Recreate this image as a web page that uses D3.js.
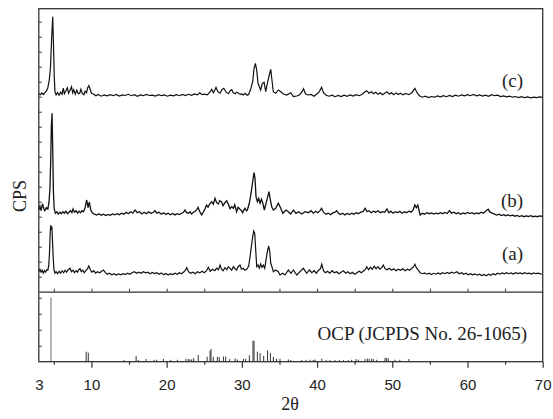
<!DOCTYPE html>
<html><head><meta charset="utf-8">
<script src="https://cdn.jsdelivr.net/npm/d3@7"></script>
<style>
html,body{margin:0;padding:0;background:#fff;}
svg{display:block;}
</style></head>
<body><svg id="chart" width="553" height="419"></svg>
<script>
// ---- data (2θ, intensity above each pattern's own baseline) ----
const xTicks = [3,10,20,30,40,50,60,70];
const xMinorTicks = [5,15,25,35,45,55,65];
const seriesLabels = ["(a)","(b)","(c)"];
const seriesOffsets = [180, 780, 1960];
const refLabel = "OCP (JCPDS No. 26-1065)";

const traceA = [[3.0,20],[3.15,45],[3.3,15],[3.45,35],[3.6,5],[3.75,30],[3.9,15],[4.05,40],[4.2,35],[4.32,80],[4.42,200],[4.52,420],[4.6,487],[4.67,440],[4.74,470],[4.82,330],[4.92,150],[5.02,40],[5.15,5],[5.3,20],[5.5,0],[5.7,25],[5.9,5],[6.1,30],[6.3,10],[6.5,35],[6.7,15],[6.9,40],[7.15,54],[7.35,20],[7.55,35],[7.75,10],[7.95,30],[8.15,15],[8.3,40],[8.48,50],[8.65,20],[8.85,35],[9.05,10],[9.25,30],[9.45,45],[9.65,77],[9.85,40],[10.05,15],[10.3,30],[10.55,5],[10.8,20],[11.1,10],[11.35,25],[11.6,37],[11.85,10],[12.1,-5],[12.4,5],[12.7,-10],[13.0,0],[13.3,-13],[13.6,-3],[13.9,-12],[14.2,0],[14.5,-8],[14.8,5],[15.1,-5],[15.4,10],[15.7,20],[16.0,5],[16.3,15],[16.6,4],[16.9,20],[17.2,8],[17.5,15],[17.8,0],[18.1,12],[18.4,2],[18.7,10],[19.0,-5],[19.3,8],[19.6,-10],[19.9,2],[20.2,-13],[20.5,0],[20.8,-8],[21.1,5],[21.4,-5],[21.7,10],[22.0,0],[22.3,20],[22.5,35],[22.67,60],[22.9,20],[23.2,5],[23.5,15],[23.8,0],[24.1,20],[24.4,8],[24.7,25],[25.0,10],[25.3,30],[25.54,64],[25.8,25],[26.1,45],[26.4,30],[26.65,55],[26.9,40],[27.1,87],[27.3,45],[27.5,30],[27.75,60],[28.0,40],[28.2,70],[28.43,54],[28.65,35],[28.87,70],[29.1,50],[29.3,37],[29.5,70],[29.75,87],[29.95,45],[30.19,54],[30.4,35],[30.65,44],[30.91,77],[31.09,170],[31.26,270],[31.44,370],[31.58,427],[31.71,404],[31.84,237],[31.98,70],[32.15,87],[32.32,54],[32.5,97],[32.68,64],[32.86,87],[33.04,54],[33.21,137],[33.39,220],[33.57,277],[33.71,220],[33.84,104],[34.0,70],[34.19,20],[34.5,37],[34.85,20],[35.07,-13],[35.44,4],[35.74,-13],[36.18,37],[36.54,4],[36.85,37],[37.3,-13],[37.73,20],[38.17,54],[38.63,4],[38.98,37],[39.3,10],[39.6,30],[39.9,5],[40.2,35],[40.45,50],[40.62,94],[40.85,30],[41.1,10],[41.4,25],[41.7,5],[42.0,30],[42.3,10],[42.6,20],[42.9,0],[43.2,15],[43.5,30],[43.8,5],[44.1,20],[44.4,0],[44.7,15],[45.0,-5],[45.3,10],[45.6,25],[45.9,10],[46.2,30],[46.45,45],[46.6,70],[46.85,40],[47.1,65],[47.35,45],[47.6,75],[47.85,50],[48.1,70],[48.35,45],[48.6,60],[48.8,87],[49.05,50],[49.3,40],[49.6,55],[49.9,35],[50.2,50],[50.5,30],[50.8,45],[51.1,35],[51.4,50],[51.7,30],[52.0,45],[52.3,35],[52.6,55],[52.85,70],[53.0,94],[53.2,60],[53.4,40],[53.7,10],[54.0,0],[54.3,8],[54.6,-5],[54.9,5],[55.2,-8],[55.5,4],[55.8,-5],[56.1,8],[56.4,-3],[56.7,10],[57.0,0],[57.3,12],[57.6,2],[57.9,15],[58.2,5],[58.6,20],[58.9,0],[59.2,10],[59.5,-5],[59.8,5],[60.1,-10],[60.4,0],[60.7,-12],[61.0,-3],[61.3,-15],[61.6,-5],[61.9,-18],[62.2,-8],[62.5,-20],[62.8,-5],[63.1,-15],[63.4,0],[63.7,-10],[64.0,5],[64.3,-5],[64.6,8],[64.9,-2],[65.2,10],[65.5,0],[65.8,8],[66.1,-3],[66.4,10],[66.7,2],[67.0,8],[67.3,-2],[67.6,10],[67.9,0],[68.2,6],[68.5,-4],[68.8,8],[69.1,0],[69.4,6],[69.7,-2],[70.0,-3]];

const traceB = [[3.0,40],[3.15,75],[3.3,30],[3.5,100],[3.65,55],[3.8,30],[4.0,60],[4.2,45],[4.35,110],[4.48,250],[4.58,520],[4.67,880],[4.76,1005],[4.85,650],[4.94,230],[5.04,50],[5.2,5],[5.4,20],[5.6,-5],[5.8,15],[6.0,0],[6.2,20],[6.4,5],[6.6,25],[6.8,0],[7.0,15],[7.2,30],[7.4,10],[7.55,47],[7.75,15],[7.95,30],[8.15,5],[8.35,25],[8.55,10],[8.75,30],[8.95,20],[9.15,60],[9.37,137],[9.55,60],[9.72,117],[9.9,40],[10.1,10],[10.4,-5],[10.7,-13],[11.0,0],[11.3,-15],[11.6,-5],[11.9,-18],[12.2,-8],[12.5,-15],[12.8,-3],[13.1,-12],[13.4,0],[13.7,-10],[14.0,5],[14.3,-5],[14.6,15],[14.9,0],[15.2,20],[15.5,5],[15.8,37],[16.1,10],[16.4,20],[16.7,-2],[17.0,15],[17.3,0],[17.6,18],[17.9,5],[18.2,12],[18.45,30],[18.7,5],[19.0,15],[19.3,-5],[19.6,10],[19.9,-8],[20.2,5],[20.5,-10],[20.8,2],[21.1,-12],[21.4,0],[21.7,-8],[22.0,5],[22.25,15],[22.44,37],[22.65,10],[22.9,5],[23.1,20],[23.3,-3],[23.55,15],[23.8,25],[24.0,40],[24.17,64],[24.4,20],[24.66,-13],[24.9,20],[25.1,50],[25.3,87],[25.5,65],[25.75,100],[26.0,120],[26.2,95],[26.43,154],[26.65,110],[26.87,97],[27.05,130],[27.3,120],[27.5,80],[27.75,110],[27.98,130],[28.2,95],[28.43,50],[28.65,70],[28.87,54],[29.05,90],[29.3,20],[29.5,64],[29.75,44],[29.95,30],[30.11,10],[30.25,37],[30.42,54],[30.6,30],[30.73,37],[30.99,104],[31.22,204],[31.44,320],[31.62,410],[31.75,354],[31.88,170],[32.06,120],[32.24,154],[32.42,104],[32.6,144],[32.77,110],[32.99,37],[33.21,104],[33.44,170],[33.61,220],[33.79,137],[33.97,70],[34.19,37],[34.5,54],[34.85,104],[35.17,54],[35.44,4],[35.87,37],[36.18,20],[36.5,-3],[36.85,37],[37.2,4],[37.56,20],[37.96,-3],[38.4,20],[38.85,10],[39.2,30],[39.5,5],[39.8,25],[40.1,10],[40.4,30],[40.6,54],[40.85,15],[41.2,-5],[41.5,5],[41.8,-10],[42.1,8],[42.4,15],[42.6,30],[42.85,5],[43.1,-8],[43.4,5],[43.7,-12],[44.0,2],[44.3,-8],[44.6,5],[44.9,-5],[45.2,10],[45.5,0],[45.8,15],[46.1,20],[46.4,54],[46.65,20],[46.9,30],[47.2,10],[47.5,25],[47.8,15],[48.1,30],[48.4,10],[48.7,20],[49.0,15],[49.3,47],[49.55,10],[49.8,25],[50.1,5],[50.4,20],[50.7,10],[51.0,25],[51.3,5],[51.6,20],[51.9,10],[52.2,25],[52.5,15],[52.8,40],[53.0,87],[53.2,60],[53.4,85],[53.7,-13],[54.0,5],[54.3,-5],[54.6,10],[54.9,0],[55.2,8],[55.5,-4],[55.8,6],[56.1,-2],[56.4,10],[56.7,0],[57.0,12],[57.3,2],[57.6,30],[57.9,5],[58.2,15],[58.5,0],[58.8,10],[59.1,-5],[59.4,8],[59.7,0],[60.0,12],[60.3,2],[60.6,10],[60.9,-3],[61.2,8],[61.5,0],[61.8,15],[62.1,5],[62.4,25],[62.75,44],[63.0,15],[63.3,5],[63.6,-5],[63.9,-13],[64.2,-5],[64.5,-18],[64.8,-10],[65.1,-20],[65.4,-12],[65.7,-22],[66.0,-15],[66.3,-25],[66.6,-18],[66.9,-28],[67.2,-20],[67.5,-30],[67.8,-22],[68.1,-28],[68.4,-20],[68.7,-30],[69.0,-24],[69.3,-30],[69.6,-22],[70.0,-28]];

const traceC = [[3.0,20],[3.2,10],[3.4,28],[3.6,12],[3.8,30],[4.0,45],[4.2,80],[4.4,160],[4.55,280],[4.7,560],[4.85,790],[4.95,520],[5.05,200],[5.15,40],[5.3,8],[5.5,30],[5.7,5],[5.9,35],[6.1,15],[6.25,75],[6.4,20],[6.6,50],[6.8,80],[6.95,25],[7.15,55],[7.35,90],[7.5,30],[7.65,60],[7.85,15],[8.05,55],[8.25,20],[8.45,25],[8.6,65],[8.8,20],[9.0,10],[9.15,45],[9.35,30],[9.5,80],[9.65,100],[9.8,70],[10.0,25],[10.3,15],[10.6,0],[10.9,12],[11.3,-5],[11.7,8],[12.1,-2],[12.5,10],[12.9,0],[13.3,12],[13.7,-4],[14.1,8],[14.5,2],[14.9,14],[15.3,0],[15.7,10],[16.1,-6],[16.5,8],[16.9,0],[17.3,12],[17.7,2],[18.1,6],[18.5,-4],[18.9,10],[19.3,0],[19.7,8],[20.1,-5],[20.5,5],[20.9,-2],[21.3,10],[21.7,0],[22.1,12],[22.5,2],[22.9,14],[23.3,4],[23.7,18],[24.1,8],[24.4,30],[24.7,10],[25.0,15],[25.4,8],[25.8,40],[26.0,64],[26.2,30],[26.4,55],[26.56,84],[26.8,40],[27.1,25],[27.35,60],[27.6,74],[27.9,35],[28.2,20],[28.45,50],[28.65,60],[28.85,30],[29.1,20],[29.3,35],[29.55,25],[29.8,14],[30.0,18],[30.2,8],[30.45,24],[30.7,5],[30.9,12],[31.17,64],[31.44,140],[31.62,274],[31.8,324],[31.97,257],[32.15,124],[32.32,90],[32.5,57],[32.72,124],[32.95,134],[33.17,40],[33.39,124],[33.65,207],[33.84,264],[34.0,157],[34.18,40],[34.5,24],[34.85,57],[35.17,40],[35.52,17],[35.97,7],[36.5,30],[36.85,-10],[37.3,-3],[37.7,10],[38.0,40],[38.2,70],[38.45,20],[38.8,7],[39.2,12],[39.6,-5],[40.0,20],[40.3,40],[40.6,85],[40.85,30],[41.2,5],[41.6,-5],[42.0,6],[42.4,-10],[42.8,2],[43.2,-8],[43.6,5],[44.0,-6],[44.4,8],[44.8,-4],[45.2,10],[45.6,0],[46.0,15],[46.3,35],[46.6,50],[46.9,25],[47.2,40],[47.5,20],[47.8,35],[48.1,15],[48.4,30],[48.7,10],[49.0,25],[49.3,40],[49.6,15],[49.9,30],[50.2,10],[50.5,28],[50.8,12],[51.1,25],[51.4,8],[51.8,22],[52.2,10],[52.6,30],[53.0,74],[53.3,30],[53.6,0],[54.0,-15],[54.4,-5],[54.8,-18],[55.2,-8],[55.6,-15],[56.0,-3],[56.4,-12],[56.8,0],[57.2,-10],[57.6,2],[58.0,-8],[58.4,5],[58.8,-5],[59.2,8],[59.6,-2],[60.0,10],[60.4,0],[60.8,12],[61.2,-2],[61.6,8],[62.0,-4],[62.4,6],[62.8,-6],[63.2,10],[63.6,0],[64.0,5],[64.4,-8],[64.8,-2],[65.2,-12],[65.6,-5],[66.0,-15],[66.4,-8],[66.8,-18],[67.2,-10],[67.6,-20],[68.0,-12],[68.4,-22],[68.8,-14],[69.2,-20],[69.6,-12],[70.0,-16]];

// reference stick pattern (2θ, relative intensity)
const refSticks = [[4.62,100],[9.3,15.6],[9.58,14],[14.33,2.6],[15.94,8.9],[16.23,2.6],[17.26,4.2],[18.32,3],[18.68,3],[19.56,4.2],[20.54,3],[21.42,3],[22.57,4.5],[22.88,4.2],[23.1,3.5],[23.33,3.5],[23.6,5.5],[24.2,10.4],[25.38,7.8],[25.77,17],[25.9,20],[26.2,7.5],[26.74,7.5],[27.0,7],[27.55,8],[27.85,8],[28.38,4],[29.1,5],[29.4,3.5],[30.2,4.5],[30.5,4.5],[31.0,10],[31.48,33],[31.62,32.5],[32.06,15.6],[32.42,13.5],[32.9,9],[33.42,17.5],[33.8,13.5],[34.19,7.5],[34.6,4.5],[35.07,4.5],[36.18,3.5],[36.5,2.7],[37.96,2.7],[38.53,2.7],[39.07,3],[39.5,2.7],[39.73,3.3],[40.62,4.5],[41.2,2.5],[41.7,2.5],[42.4,2.5],[42.96,2.5],[43.5,2.5],[44.15,2.5],[44.6,3],[45.18,4],[45.49,3.2],[46.38,4],[46.68,4.8],[46.95,4.5],[47.27,4.8],[47.48,4],[47.93,3],[49.04,6],[49.26,6],[49.48,4.8],[50.37,3],[51.0,3],[52.2,4]];

// ---- drawing ----
const svg = d3.select("#chart");
const L = 38.8, R = 542.7, T = 8.7, B = 361.7, MID = 291.7;
const x = d3.scaleLinear().domain([3,70]).range([L,R]);
const yU = d3.scaleLinear().domain([0,2830]).range([MID,T]);
const yL = d3.scaleLinear().domain([0,109.4]).range([B,MID]);

const frameColor = "#333";

// stick pattern
svg.append("g").selectAll("line").data(refSticks).join("line")
  .attr("x1", d=>x(d[0])).attr("x2", d=>x(d[0]))
  .attr("y1", yL(0)).attr("y2", d=>yL(d[1]))
  .attr("stroke", (d,i)=> i===0 ? "#666" : "#333").attr("stroke-width", 1);

// traces
const traces = [traceA, traceB, traceC];
traces.forEach((tr,i)=>{
  const line = d3.line().x(d=>x(d[0])).y(d=>yU(seriesOffsets[i]+d[1]));
  svg.append("path").attr("d", line(tr)).attr("fill","none")
    .attr("stroke","#111").attr("stroke-width", i===1 ? 1.3 : 1.2)
    .attr("stroke-linejoin","miter");
});

// left axis ticks (inward)
svg.append("g").attr("transform",`translate(${L},0)`)
  .call(d3.axisRight(yU).tickValues(d3.range(150,2830,150)).tickSize(3).tickFormat(""))
  .call(g=>g.select(".domain").remove())
  .call(g=>g.selectAll("line").attr("stroke",frameColor));
svg.append("g").attr("transform",`translate(${L},0)`)
  .call(d3.axisRight(yL).tickValues([25,50,75,100]).tickSize(3).tickFormat(""))
  .call(g=>g.select(".domain").remove())
  .call(g=>g.selectAll("line").attr("stroke",frameColor));

// divider between panels with small ticks
svg.append("g").attr("transform",`translate(0,${MID})`)
  .call(d3.axisTop(x).tickValues(d3.range(5,70,5)).tickSize(3).tickSizeOuter(0).tickFormat(""))
  .call(g=>g.select(".domain").attr("stroke",frameColor).attr("stroke-width",1.3))
  .call(g=>g.selectAll(".tick line").attr("stroke",frameColor));

// bottom axis
svg.append("g").attr("transform",`translate(0,${B})`)
  .call(d3.axisBottom(x).tickValues(xMinorTicks).tickSize(3).tickSizeOuter(0).tickFormat(""))
  .call(g=>g.select(".domain").remove())
  .call(g=>g.selectAll("line").attr("stroke",frameColor).attr("stroke-width",1.2));
svg.append("g").attr("transform",`translate(0,${B})`)
  .call(d3.axisBottom(x).tickValues(xTicks).tickSize(6).tickSizeOuter(0).tickPadding(12).tickFormat(d3.format("d")))
  .call(g=>g.select(".domain").remove())
  .call(g=>g.selectAll("line").attr("stroke",frameColor).attr("stroke-width",1.2)
      .filter(d=>d===3).remove())
  .call(g=>g.selectAll("text").attr("font-family","'Liberation Sans', Arial, sans-serif")
      .attr("font-size",15).attr("fill","#222"));

// frame
svg.append("rect").attr("x",L).attr("y",T).attr("width",R-L).attr("height",B-T)
  .attr("fill","none").attr("stroke",frameColor).attr("stroke-width",1.3);

// labels
const serif = "'Liberation Serif', 'Times New Roman', serif";
const labelPos = [[512.5,260],[512,207],[512.5,86.5]];
seriesLabels.forEach((t,i)=>{
  svg.append("text").attr("x",labelPos[i][0]).attr("y",labelPos[i][1])
    .attr("text-anchor","middle").attr("font-family",serif).attr("font-size",19)
    .attr("fill","#222").text(t);
});
svg.append("text").attr("x",527).attr("y",340).attr("text-anchor","end")
  .attr("font-family",serif).attr("font-size",19).attr("fill","#222").text(refLabel);

svg.append("text").attr("transform","translate(26,196) rotate(-90)")
  .attr("text-anchor","middle").attr("font-family",serif).attr("font-size",18)
  .attr("fill","#222").text("CPS");
svg.append("text").attr("x",290).attr("y",410).attr("text-anchor","middle")
  .attr("font-family",serif).attr("font-size",18).attr("fill","#222").text("2θ");
</script>
</body></html>
